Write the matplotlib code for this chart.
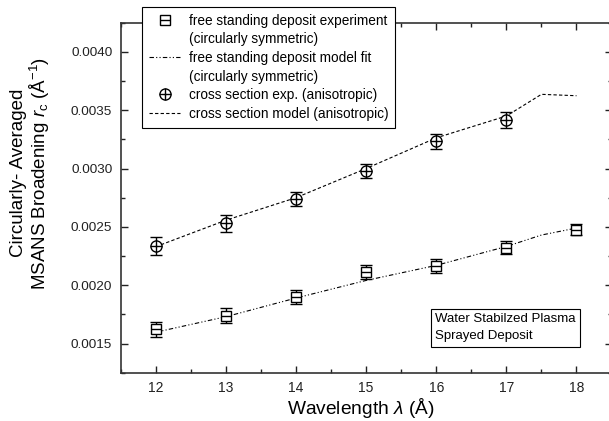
import matplotlib
matplotlib.use("Agg")
import matplotlib.pyplot as plt
from matplotlib.ticker import MultipleLocator, FormatStrFormatter
from matplotlib.legend_handler import HandlerTuple
from matplotlib.lines import Line2D

plt.rcParams['font.family'] = ['Liberation Sans', 'DejaVu Sans']
plt.rcParams['mathtext.fontset'] = 'custom'
plt.rcParams['mathtext.rm'] = 'Liberation Sans'
plt.rcParams['mathtext.it'] = 'Liberation Sans:italic'

# free standing deposit (circularly symmetric)
wl_fs = [12, 13, 14, 15, 16, 17, 18]
fs_exp = [0.001623, 0.001740, 0.001897, 0.002111, 0.002163, 0.002322, 0.002477]
fs_err = [0.000065, 0.000065, 0.000060, 0.000060, 0.000060, 0.000055, 0.000050]
wl_fs_model = [12, 13, 14, 15, 16, 17, 17.5, 18]
fs_model = [0.001597, 0.001730, 0.001890, 0.002041, 0.002170, 0.002332, 0.002430, 0.002490]

# cross section (anisotropic)
wl_cs = [12, 13, 14, 15, 16, 17]
cs_exp = [0.002337, 0.002530, 0.002743, 0.002983, 0.003234, 0.003414]
cs_err = [0.000075, 0.000070, 0.000060, 0.000060, 0.000065, 0.000070]
wl_cs_model = [12, 13, 14, 15, 16, 17, 17.5, 18]
cs_model = [0.002330, 0.002557, 0.002750, 0.003000, 0.003263, 0.003450, 0.003636, 0.003624]

fig = plt.figure(figsize=(6.09, 4.21), dpi=100)
ax = fig.add_axes([0.1982, 0.1147, 0.806, 0.8314])

dashdotdot = (0, (4, 2, 1, 2, 1, 2))
dashed = (0, (3, 2))

l_fs, = ax.plot(wl_fs_model, fs_model, color="black", lw=0.8, ls=dashdotdot, zorder=2)
l_cs, = ax.plot(wl_cs_model, cs_model, color="black", lw=0.8, ls=dashed, zorder=2)

ax.errorbar(wl_fs, fs_exp, yerr=fs_err, fmt="none", ecolor="black", elinewidth=1.0,
            capsize=4, capthick=1.0, zorder=3)
ax.errorbar(wl_cs, cs_exp, yerr=cs_err, fmt="none", ecolor="black", elinewidth=1.0,
            capsize=4, capthick=1.0, zorder=3)

m_sq, = ax.plot(wl_fs, fs_exp, ls="none", marker="s", ms=7, mfc="white", mec="black", mew=1.0, zorder=4)
m_sq2, = ax.plot(wl_fs, fs_exp, ls="none", marker="_", ms=7, mec="black", mew=1.0, zorder=5)
m_ci, = ax.plot(wl_cs, cs_exp, ls="none", marker="o", ms=8, mfc="white", mec="black", mew=1.0, zorder=4)
m_ci2, = ax.plot(wl_cs, cs_exp, ls="none", marker="+", ms=8, mec="black", mew=1.0, zorder=5)

ax.set_xlim(11.5, 18.5)
ax.set_ylim(0.00125, 0.00425)
ax.xaxis.set_major_locator(MultipleLocator(1))
ax.xaxis.set_minor_locator(MultipleLocator(0.5))
ax.yaxis.set_major_locator(MultipleLocator(0.0005))
ax.yaxis.set_minor_locator(MultipleLocator(0.00025))
ax.yaxis.set_major_formatter(FormatStrFormatter("%.4f"))
ax.tick_params(which="both", direction="in", top=True, right=True, colors="#222222")
ax.tick_params(which="major", length=5, width=1.0, labelsize=10, pad=6)
ax.tick_params(which="minor", length=3, width=1.0)
ax.tick_params(axis="y", labelsize=9.7)
for s in ax.spines.values():
    s.set_linewidth(1.2)
    s.set_color("#333333")

ax.set_xlabel(r"Wavelength $\lambda$ (Å)", fontsize=13.8, labelpad=0)
ax.xaxis.set_label_coords(0.488, -0.066)
ax.set_ylabel("Circularly- Averaged\n" + r"MSANS Broadening $r_{\rm c}$ (Å$^{-1}$)",
              fontsize=13.5, linespacing=1.05)
ax.yaxis.set_label_coords(-0.14, 0.57)

blank = Line2D([], [], ls="none", marker="none")
leg = ax.legend([(m_sq, m_sq2), blank, l_fs, blank, (m_ci, m_ci2), l_cs],
                ["free standing deposit experiment",
                 "(circularly symmetric)",
                 "free standing deposit model fit",
                 "(circularly symmetric)",
                 "cross section exp. (anisotropic)",
                 "cross section model (anisotropic)"],
                handler_map={tuple: HandlerTuple(ndivide=1)},
                loc="upper left", bbox_to_anchor=(0.044, 1.045), fontsize=9.8,
                frameon=True, fancybox=False, framealpha=1, edgecolor="black",
                handlelength=2.3, handletextpad=0.6, borderpad=0.5, labelspacing=0.34,
                borderaxespad=0)
leg.get_frame().set_linewidth(0.8)
leg.set_zorder(10)

ax.text(0.641, 0.088, "Water Stabilzed Plasma\nSprayed Deposit", transform=ax.transAxes,
        fontsize=9.5, va="bottom", ha="left", linespacing=1.5,
        bbox=dict(boxstyle="square,pad=0.35", fc="white", ec="black", lw=0.8))

fig.savefig("out.png", dpi=100)
